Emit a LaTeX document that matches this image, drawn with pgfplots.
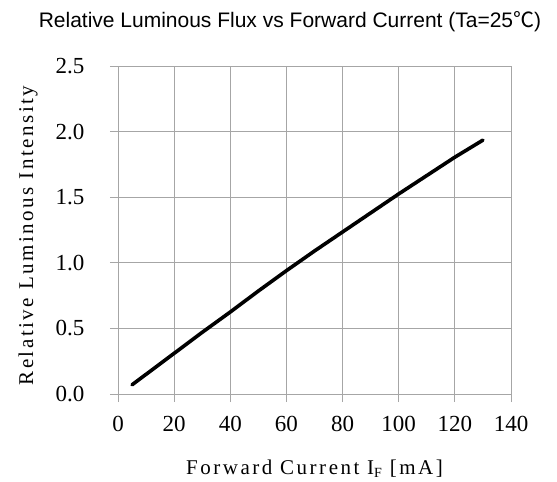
\documentclass[border=0pt]{standalone}
\usepackage{fontspec}
\setmainfont{Liberation Serif}
\newfontfamily\titlefont{Liberation Sans}
\newfontfamily\labelfont[LetterSpace=12]{Liberation Serif}
\newfontfamily\cjk{Noto Sans CJK SC}
\usepackage{pgfplots}
\pgfplotsset{compat=1.18}
\definecolor{gridgray}{RGB}{166,166,166}
\begin{document}
\begin{tikzpicture}[x=1pt,y=1pt]
\useasboundingbox (0,0) rectangle (557,482);
\node[anchor=base, font=\titlefont\fontsize{21}{21}\selectfont] at (290,454)
  {Relative Luminous Flux vs Forward Current (Ta=25{\cjk ℃})};
\begin{axis}[
  at={(118pt,88pt)}, anchor=south west,
  scale only axis, width=393pt, height=328pt,
  xmin=0, xmax=140, ymin=0, ymax=2.5,
  xtick={0,20,40,60,80,100,120,140},
  ytick={0,0.5,1,1.5,2,2.5},
  xtick pos=left, ytick pos=left,
  tick align=outside, major tick length=8pt,
  tick style={gridgray, line width=0.8pt},
  axis line style={gridgray, line width=0.8pt},
  grid=major, major grid style={gridgray, line width=0.8pt},
  /pgf/number format/assume math mode=true,
  tick label style={font=\fontsize{23}{23}\selectfont},
  xticklabel style={yshift=-11pt},
  yticklabel style={xshift=-22pt, /pgf/number format/.cd, fixed, fixed zerofill, precision=1},
  xlabel={\labelfont\fontsize{21}{21}\selectfont Forward Current I\raisebox{-0.15em}{\fontsize{14}{14}\selectfont F} [mA]},
  ylabel={\labelfont\fontsize{21}{21}\selectfont Relative Luminous Intensity},
  xlabel style={at={(axis description cs:0.5,-0.244)}, anchor=base},
  ylabel style={at={(axis description cs:-0.216,0.483)}, anchor=base},
]
\addplot[black, line width=3.6pt, line cap=round] coordinates {
  (5,0.07) (10,0.15) (20,0.31) (30,0.47) (40,0.625) (50,0.785) (60,0.94)
  (70,1.09) (80,1.235) (90,1.38) (100,1.525) (110,1.665) (120,1.805) (130,1.935)
};
\end{axis}
\end{tikzpicture}
\end{document}
